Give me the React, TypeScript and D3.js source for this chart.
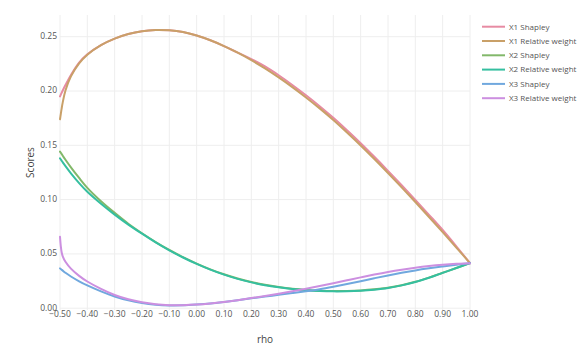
import React from "react";
import * as d3 from "d3";

const rho = [
  -0.5, -0.497, -0.494, -0.49, -0.48, -0.46, -0.43, -0.4, -0.35, -0.3, -0.25, -0.2, -0.15, -0.1,
  -0.05, 0, 0.05, 0.1, 0.15, 0.2, 0.25, 0.3, 0.35, 0.4, 0.45, 0.5, 0.55, 0.6, 0.65, 0.7, 0.75, 0.8,
  0.85, 0.9, 0.95, 1.0,
];

const x1Shapley = [
  0.195, 0.1967, 0.1983, 0.2005, 0.2055, 0.2148, 0.2262, 0.2338, 0.2423, 0.2483, 0.2525, 0.2551,
  0.2562, 0.2559, 0.2543, 0.2511, 0.2467, 0.2414, 0.2353, 0.2294, 0.2226, 0.2145, 0.2056, 0.1961,
  0.186, 0.1753, 0.1638, 0.1519, 0.1394, 0.1265, 0.1133, 0.0998, 0.086, 0.072, 0.057, 0.0415,
];
const x1Relative = [
  0.174, 0.179, 0.1838, 0.1895, 0.2005, 0.2135, 0.2255, 0.2335, 0.2423, 0.2483, 0.2525, 0.2551,
  0.2562, 0.2559, 0.2543, 0.2511, 0.2467, 0.2414, 0.2353, 0.2284, 0.2208, 0.2125, 0.2036, 0.1941,
  0.184, 0.1733, 0.1618, 0.1499, 0.1374, 0.1245, 0.1113, 0.0978, 0.084, 0.07, 0.0558, 0.0415,
];
const x2Shapley = [
  0.1442, 0.1431, 0.142, 0.1404, 0.1367, 0.1297, 0.1199, 0.1108, 0.0985, 0.0878, 0.0778, 0.069,
  0.0609, 0.0536, 0.047, 0.0411, 0.0358, 0.0312, 0.0273, 0.0241, 0.0215, 0.0195, 0.0179, 0.0168,
  0.0161, 0.0158, 0.0159, 0.0164, 0.0174, 0.0189, 0.0212, 0.0243, 0.0282, 0.0326, 0.037, 0.0415,
];
const x2Relative = [
  0.138, 0.1369, 0.1358, 0.1343, 0.1308, 0.1242, 0.1152, 0.1072, 0.0962, 0.0862, 0.077, 0.0686,
  0.0606, 0.0533, 0.0467, 0.0408, 0.0355, 0.0309, 0.027, 0.0238, 0.0212, 0.0192, 0.0176, 0.0165,
  0.0158, 0.0155, 0.0156, 0.0161, 0.0171, 0.0186, 0.021, 0.0241, 0.028, 0.0325, 0.037, 0.0415,
];
const x3Shapley = [
  0.0367, 0.036, 0.0354, 0.0346, 0.0326, 0.0292, 0.0248, 0.021, 0.0155, 0.0108, 0.0072, 0.0047,
  0.0032, 0.0026, 0.0027, 0.0034, 0.0044, 0.0058, 0.0074, 0.0091, 0.0107, 0.0123, 0.0139, 0.0156,
  0.0175, 0.0198, 0.0223, 0.0249, 0.0276, 0.0302, 0.0326, 0.0348, 0.0367, 0.0384, 0.04, 0.0415,
];
const x3Relative = [
  0.0658, 0.057, 0.0515, 0.0478, 0.0428, 0.0365, 0.0298, 0.0246, 0.0178, 0.0122, 0.0082, 0.0054,
  0.0036, 0.0028, 0.0028, 0.0033, 0.0043, 0.0057, 0.0074, 0.0093, 0.0113, 0.0134, 0.0156, 0.0179,
  0.0204, 0.023, 0.0257, 0.0284, 0.031, 0.0334, 0.0355, 0.0373, 0.0388, 0.04, 0.0409, 0.0415,
];

const seriesNames = [
  "X1 Shapley",
  "X1 Relative weight",
  "X2 Shapley",
  "X2 Relative weight",
  "X3 Shapley",
  "X3 Relative weight",
];
const seriesValues = [x1Shapley, x1Relative, x2Shapley, x2Relative, x3Shapley, x3Relative];
const seriesColors = ["#e78ba3", "#c9a068", "#82b86a", "#35bfa0", "#70a8de", "#cc8fe0"];

const xTicks = [-0.5, -0.4, -0.3, -0.2, -0.1, 0, 0.1, 0.2, 0.3, 0.4, 0.5, 0.6, 0.7, 0.8, 0.9, 1.0];
const yTicks = [0, 0.05, 0.1, 0.15, 0.2, 0.25];

const width = 586;
const height = 354;
const margin = { left: 60, right: 116, top: 15, bottom: 44 };
const font = "'Open Sans', sans-serif";

export default function App() {
  const x = d3.scaleLinear().domain([-0.5, 1.0]).range([margin.left, width - margin.right]);
  const y = d3.scaleLinear().domain([0, 0.27]).range([308.2, margin.top]);
  const fmt = d3.format(".2f");

  const line = d3
    .line<number>()
    .x((_, i) => x(rho[i]))
    .y((d) => y(d))
    .curve(d3.curveCatmullRom.alpha(0.5));

  const plotBottom = height - margin.bottom;

  return (
    <svg
      width={width}
      height={height}
      style={{ position: "absolute", left: 0, top: 0, background: "#fff" }}
    >
      {/* grid */}
      <g stroke="#eee" strokeWidth={1}>
        {xTicks.map((t) => (
          <line key={"gx" + t} x1={x(t)} x2={x(t)} y1={margin.top} y2={plotBottom} />
        ))}
        {yTicks.map((t) => (
          <line key={"gy" + t} x1={margin.left} x2={width - margin.right} y1={y(t)} y2={y(t)} />
        ))}
      </g>

      {/* lines */}
      <g fill="none" strokeWidth={2} strokeLinejoin="round" strokeLinecap="round">
        {seriesValues.map((vals, i) => (
          <path key={seriesNames[i]} d={line(vals) || ""} stroke={seriesColors[i]} />
        ))}
      </g>

      {/* tick labels */}
      <g fontFamily={font} fontSize={8.5} fill="#555">
        {xTicks.map((t) => (
          <text key={"tx" + t} x={x(t)} y={317} textAnchor="middle">
            {fmt(t)}
          </text>
        ))}
        {yTicks.map((t) => (
          <text key={"ty" + t} x={57} y={y(t) - 0.5} dy="0.35em" textAnchor="end">
            {fmt(t)}
          </text>
        ))}
      </g>

      {/* axis titles */}
      <text
        x={(x(-0.5) + x(1.0)) / 2}
        y={343}
        textAnchor="middle"
        fontFamily={font}
        fontSize={10}
        fill="#444"
      >
        rho
      </text>
      <text
        transform={`translate(34,${(margin.top + plotBottom) / 2}) rotate(-90)`}
        textAnchor="middle"
        fontFamily={font}
        fontSize={10}
        fill="#444"
      >
        Scores
      </text>

      {/* legend */}
      <g fontFamily={font} fontSize={8} fill="#555">
        {seriesNames.map((name, i) => (
          <g key={"lg" + name} transform={`translate(482,${26.7 + i * 14.3})`}>
            <line x1={0} x2={23} y1={0} y2={0} stroke={seriesColors[i]} strokeWidth={2} />
            <text x={27} y={0} dy="0.35em">
              {name}
            </text>
          </g>
        ))}
      </g>
    </svg>
  );
}
